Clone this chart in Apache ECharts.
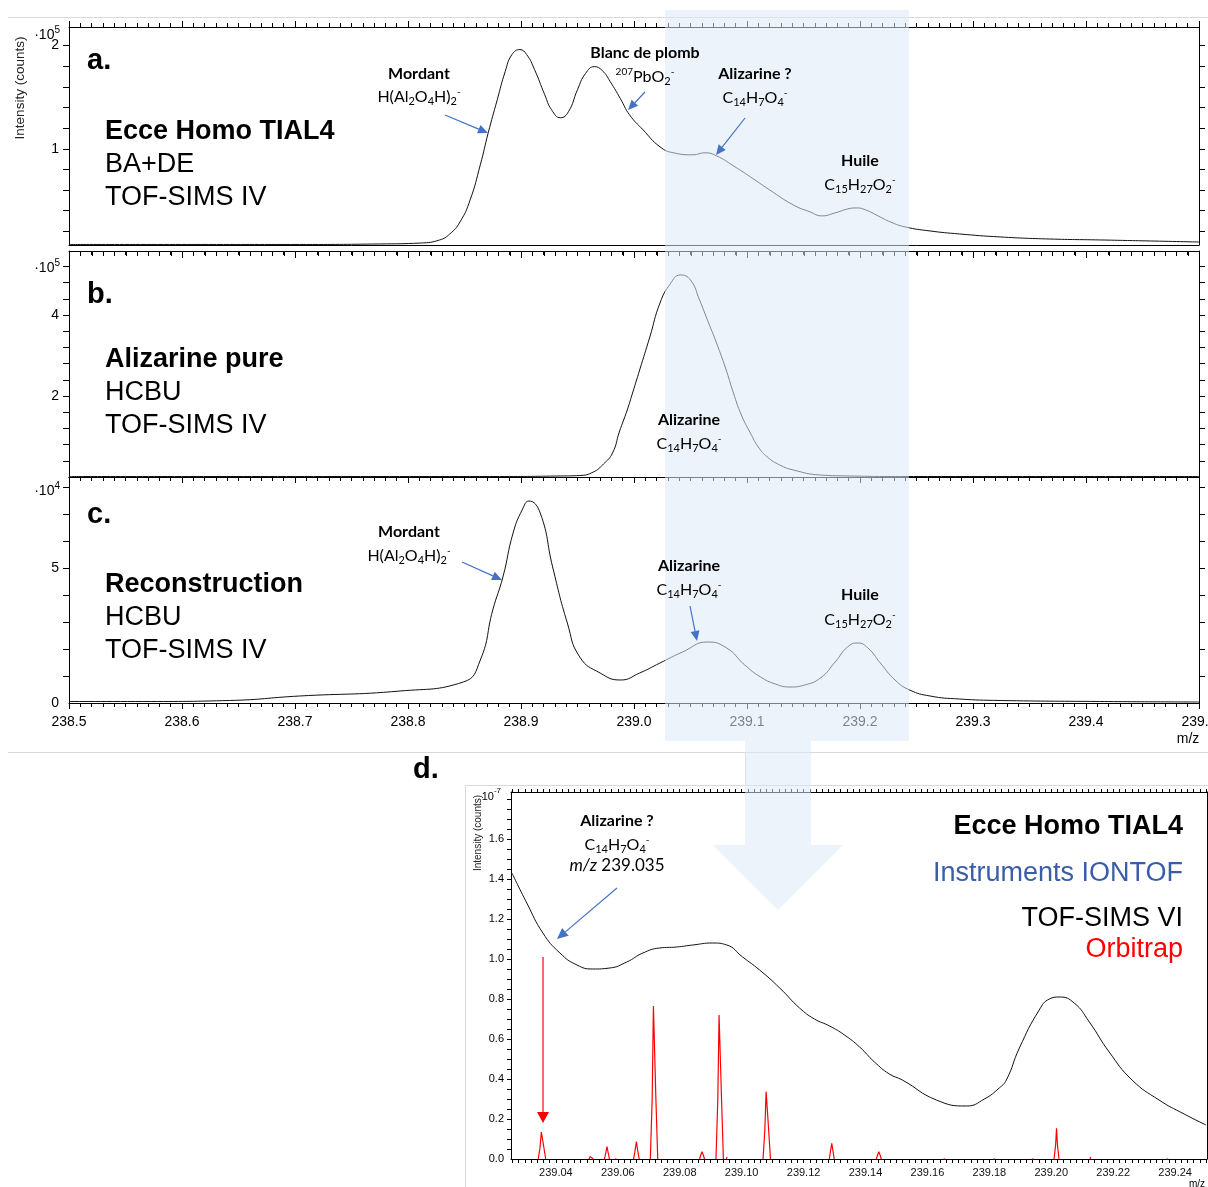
<!DOCTYPE html>
<html><head><meta charset="utf-8">
<script src="https://cdn.jsdelivr.net/npm/echarts@6/dist/echarts.min.js"></script>
<style>html,body{margin:0;padding:0;background:#fff}#c{width:1208px;height:1187px;background:#fff}</style>
</head><body><div id="c"></div>
<script>
// ---- Data (m/z, intensity) ----
// Panel a: Ecce Homo TIAL4, intensity x10^5 counts
const panelA = [[238.5,0.073],[238.616,0.073],[238.704,0.073],[238.775,0.078],[238.811,0.087],[238.828,0.117],[238.837,0.175],[238.846,0.291],[238.855,0.505],[238.864,0.845],[238.871,1.155],[238.879,1.476],[238.886,1.748],[238.892,1.913],[238.899,1.961],[238.905,1.913],[238.912,1.767],[238.921,1.524],[238.927,1.379],[238.935,1.301],[238.942,1.359],[238.950,1.573],[238.957,1.728],[238.965,1.796],[238.972,1.757],[238.979,1.650],[238.988,1.485],[238.996,1.330],[239.008,1.184],[239.023,1.019],[239.035,0.961],[239.052,0.942],[239.063,0.961],[239.073,0.932],[239.088,0.835],[239.103,0.728],[239.120,0.602],[239.141,0.456],[239.156,0.388],[239.166,0.350],[239.178,0.379],[239.189,0.417],[239.197,0.427],[239.205,0.408],[239.216,0.350],[239.227,0.291],[239.240,0.243],[239.262,0.204],[239.288,0.175],[239.324,0.146],[239.368,0.126],[239.412,0.117],[239.457,0.107],[239.5,0.097]];
// Panel b: Alizarine pure, x10^5 counts
const panelB = [[238.5,0.012],[238.881,0.012],[238.935,0.025],[238.952,0.037],[238.964,0.123],[238.973,0.321],[238.981,0.593],[238.987,1.111],[238.994,1.654],[238.999,2.099],[239.005,2.642],[239.014,3.457],[239.023,4.296],[239.032,4.765],[239.041,4.988],[239.050,4.864],[239.058,4.370],[239.065,3.877],[239.073,3.309],[239.081,2.691],[239.088,2.074],[239.095,1.531],[239.103,1.086],[239.110,0.741],[239.118,0.494],[239.129,0.296],[239.141,0.173],[239.165,0.049],[239.191,0.025],[239.235,0.012],[239.5,0.012]];
// Panel c: Reconstruction, x10^4 counts
const panelC = [[238.5,0.056],[238.572,0.056],[238.642,0.093],[238.704,0.259],[238.793,0.444],[238.849,0.778],[238.864,1.593],[238.875,3.444],[238.884,4.667],[238.893,6.296],[238.901,7.148],[238.907,7.481],[238.917,7.037],[238.928,5.037],[238.941,2.963],[238.952,1.704],[238.970,1.111],[238.988,0.852],[239.005,1.111],[239.023,1.481],[239.043,1.889],[239.065,2.259],[239.082,2.037],[239.098,1.407],[239.112,0.963],[239.125,0.704],[239.138,0.593],[239.151,0.667],[239.165,0.926],[239.178,1.519],[239.189,2.074],[239.198,2.222],[239.207,2.037],[239.218,1.481],[239.231,0.852],[239.244,0.481],[239.262,0.259],[239.288,0.148],[239.324,0.093],[239.412,0.056],[239.5,0.037]];
// Panel d: TOF-SIMS VI (black), x10^-7
const panelDTof = [[239.0258,1.43],[239.0306,1.28],[239.0358,1.13],[239.0413,1.03],[239.0468,0.97],[239.0519,0.95],[239.0574,0.955],[239.0629,0.985],[239.0681,1.03],[239.0735,1.055],[239.0790,1.06],[239.0842,1.07],[239.0906,1.08],[239.0952,1.07],[239.1003,1.01],[239.1058,0.945],[239.1123,0.855],[239.1187,0.755],[239.1235,0.70],[239.1284,0.665],[239.1332,0.62],[239.1381,0.56],[239.1429,0.485],[239.1477,0.425],[239.1519,0.395],[239.1629,0.295],[239.1726,0.265],[239.1784,0.30],[239.1832,0.355],[239.1855,0.395],[239.1897,0.555],[239.1961,0.745],[239.1994,0.80],[239.2026,0.81],[239.2074,0.78],[239.2123,0.685],[239.2187,0.535],[239.2261,0.395],[239.2348,0.295],[239.2429,0.225],[239.2500,0.17]];
// Panel d: Orbitrap profile peaks (red), x10^-7
const orbitrapPeaks = [
 [[239.0343,0],[239.0349,0.06],[239.0353,0.135],[239.0357,0.135],[239.0361,0.06],[239.0367,0]],
 [[239.0507,0],[239.0511,0.012],[239.0514,0.02],[239.0517,0.012],[239.0521,0]],
 [[239.0557,0],[239.0561,0.03],[239.0565,0.062],[239.0569,0.03],[239.0573,0]],
 [[239.0590,0],[239.0593,0.006],[239.0596,0]],
 [[239.0651,0],[239.0656,0.045],[239.0660,0.087],[239.0664,0.045],[239.0669,0]],
 [[239.0705,0],[239.0711,0.3],[239.0715,0.765],[239.0719,0.765],[239.0723,0.3],[239.0729,0]],
 [[239.0864,0],[239.0868,0.02],[239.0872,0.037],[239.0876,0.02],[239.0880,0]],
 [[239.0917,0],[239.0923,0.3],[239.0927,0.72],[239.0931,0.72],[239.0935,0.3],[239.0941,0]],
 [[239.0950,0],[239.0953,0.01],[239.0956,0]],
 [[239.1069,0],[239.1075,0.15],[239.1079,0.337],[239.1083,0.337],[239.1087,0.15],[239.1093,0]],
 [[239.1283,0],[239.1287,0.04],[239.1291,0.078],[239.1295,0.04],[239.1299,0]],
 [[239.1435,0],[239.1439,0.02],[239.1443,0.037],[239.1447,0.02],[239.1451,0]],
 [[239.1652,0],[239.1655,0.006],[239.1658,0]],
 [[239.1813,0],[239.1816,0.005],[239.1819,0]],
 [[239.1937,0],[239.1940,0.005],[239.1943,0]],
 [[239.2009,0],[239.2014,0.07],[239.2017,0.153],[239.2020,0.07],[239.2025,0]],
 [[239.2125,0],[239.2128,0.01],[239.2131,0]],
 [[239.2372,0],[239.2375,0.005],[239.2378,0]]
];
// ---- Axis ranges / tick labels ----
const mainXRange = [238.5, 239.5];
const aYRange = [0.068, 2.18], aYLabels = [1, 2], aYTicks = [0.2,0.4,0.6,0.8,1.0,1.2,1.4,1.6,1.8,2.0];
const bYRange = [0, 5.58], bYLabels = [2, 4], bYTicks = [0.4,0.8,1.2,1.6,2.0,2.4,2.8,3.2,3.6,4.0,4.4,4.8,5.2];
const cYRange = [0, 8.37], cYLabels = [0, 5], cYTicks = [1,2,3,4,5,6,7,8];
const dXRange = [239.0255, 239.2503], dXLabels = [239.04,239.06,239.08,239.10,239.12,239.14,239.16,239.18,239.20,239.22,239.24];
const dYRange = [0, 1.835], dYLabels = [0,0.2,0.4,0.6,0.8,1.0,1.2,1.4,1.6], dYMajor = [0.2,0.4,0.6,0.8,1.0,1.2,1.4,1.6,1.8];
const mainXMajor = [238.5,238.6,238.7,238.8,238.9,239.0,239.1,239.2,239.3,239.4,239.5];
const mainXMinor = []; for (let i = 1; i < 100; i++) if (i % 10) mainXMinor.push(+(238.5 + i*0.01).toFixed(2));
const dYMinor = []; for (let i = 1; i <= 36; i++) if (i % 4) dYMinor.push(+(i*0.05).toFixed(2));
const dXMinor = []; for (let i = 13; i <= 125; i++) if (i % 10) dXMinor.push(+(239 + i*0.002).toFixed(3));
const dYAll = dYMajor.concat(dYMinor).sort((a,b)=>a-b);
const dXAll = dXLabels.concat(dXMinor).sort((a,b)=>a-b);

// ---- build ----
const chart = echarts.init(document.getElementById('c'));
const BLK = '#000';
const gridRects = [
  {left:69, top:27, width:1130, height:218},
  {left:69, top:251, width:1130, height:226},
  {left:69, top:477, width:1130, height:226},
  {left:511, top:792, width:696, height:367}
];
const grids = gridRects.map(g => Object.assign({outerBoundsMode:'none'}, g));

function mainX(gi, pos, o) {
  return {type:'value', gridIndex:gi, position:pos, min:mainXRange[0], max:mainXRange[1], interval:0.1,
    axisLine:{show:true, onZero:false, lineStyle:{color:BLK, width:1}},
    axisTick:{show:!!o.ticks, inside:!!o.inside, length:6, lineStyle:{color:BLK, width:1}},
    minorTick:{show:!!o.ticks, splitNumber:10, length:4, lineStyle:{color:BLK, width:1}},
    axisLabel:{show:!!o.labels, formatter:v=>v.toFixed(1), fontFamily:'Liberation Sans', fontSize:14, color:BLK, margin:12},
    splitLine:{show:false}, minorSplitLine:{show:false}};
}
function yAx(gi, pos, range, ticks, labels, o) {
  return {type:'value', gridIndex:gi, position:pos, min:range[0], max:range[1],
    axisLine:{show:true, onZero:false, lineStyle:{color:BLK, width:1}},
    axisTick:{show:true, length:o.len||6, customValues:ticks, lineStyle:{color:BLK, width:1}},
    axisLabel:{show:!!labels, customValues:labels||[], formatter:o.fmt||(v=>String(v)), fontFamily:'Liberation Sans', fontSize:o.fs||14, color:BLK, margin:o.margin||10},
    splitLine:{show:false}};
}
const xAxis = [
  mainX(0,'bottom',{}), mainX(0,'top',{ticks:true}),
  mainX(1,'bottom',{}), mainX(1,'top',{ticks:true, inside:true}),
  mainX(2,'bottom',{ticks:true, labels:true}), mainX(2,'top',{ticks:true, inside:true}),
  {type:'value', gridIndex:3, position:'bottom', min:dXRange[0], max:dXRange[1],
    axisLine:{show:true, onZero:false, lineStyle:{color:BLK}},
    axisTick:{show:true, length:4, customValues:dXAll, lineStyle:{color:BLK, width:1}},
    axisLabel:{show:true, customValues:dXLabels, formatter:v=>v.toFixed(2), fontFamily:'Liberation Sans', fontSize:11, color:'#111', margin:8},
    splitLine:{show:false}},
  {type:'value', gridIndex:3, position:'top', min:dXRange[0], max:dXRange[1],
    axisLine:{show:true, onZero:false, lineStyle:{color:BLK}},
    axisTick:{show:true, length:3, customValues:dXAll, lineStyle:{color:BLK, width:1}},
    axisLabel:{show:false}, splitLine:{show:false}}
];
const yAxis = [
  yAx(0,'left',aYRange,aYTicks,aYLabels,{}), yAx(0,'right',aYRange,aYTicks,null,{}),
  yAx(1,'left',bYRange,bYTicks,bYLabels,{}), yAx(1,'right',bYRange,bYTicks,null,{}),
  yAx(2,'left',cYRange,cYTicks,cYLabels,{}), yAx(2,'right',cYRange,cYTicks,null,{}),
  yAx(3,'left',dYRange,dYAll,dYLabels,{len:4, fs:11, margin:7, fmt:v=>v.toFixed(1)}),
  yAx(3,'right',dYRange,[0.5,1.0,1.5],null,{len:1})
];
function lineSeries(xi, yi, data, color, smooth, w) {
  return {type:'line', xAxisIndex:xi, yAxisIndex:yi, data, showSymbol:false, symbol:'none',
    smooth:smooth, connectNulls:false, lineStyle:{color, width:w||1}, z:3};
}
const orbitrapData = [];
orbitrapPeaks.forEach((p, i) => { if (i) orbitrapData.push([p[0][0]-0.0002, '-']); p.forEach(q => orbitrapData.push(q)); });
const series = [
  lineSeries(0,0,panelA,'#111',0.5),
  lineSeries(2,2,panelB,'#111',0.5),
  lineSeries(4,4,panelC,'#111',0.5),
  lineSeries(6,6,orbitrapData,'#ff0000',false,1.2),
  lineSeries(6,6,panelDTof,'#111',0.5)
];
chart.setOption({animation:false, grid:grids, xAxis, yAxis, series});

// ---- annotations & extra tick marks ----
const G = [];
const ANN = 'Lato, "Open Sans", sans-serif';
const RICH = {
  s:{font:'11px '+ANN, fontSize:11, fontFamily:ANN, lineHeight:11, verticalAlign:'bottom'},
  p:{font:'10px '+ANN, fontSize:10, fontFamily:ANN, lineHeight:10, verticalAlign:'top'},
  i:{font:'italic 17px '+ANN, fontSize:17, fontFamily:ANN, fontStyle:'italic'},
  e:{font:'10px "Liberation Sans"', fontSize:10, fontFamily:'Liberation Sans', lineHeight:9, verticalAlign:'top'},
  e2:{font:'8px "Liberation Sans"', fontSize:8, fontFamily:'Liberation Sans', lineHeight:8, verticalAlign:'top'}
};
function T(x, y, text, font, o) {
  o = o || {};
  const al = o.align || 'left';
  G.push({type:'text', x, y, z:100, rotation:o.rot||0, silent:true,
    style:{text, font, fill:o.color||'#000', align:al, textAlign:al, verticalAlign:'middle', textVerticalAlign:'middle', rich:RICH, lineHeight:o.lh||20}});
}
function seg(x1, y1, x2, y2, color, w, z) {
  G.push({type:'line', z:z||10, silent:true, shape:{x1, y1, x2, y2}, style:{stroke:color, lineWidth:w||1}});
}
function arrow(x1, y1, x2, y2, color, hl, hw, w) {
  const a = Math.atan2(y2-y1, x2-x1);
  const bx = x2 - hl*Math.cos(a), by = y2 - hl*Math.sin(a);
  const ox = -Math.sin(a)*hw/2, oy = Math.cos(a)*hw/2;
  seg(x1, y1, bx, by, color, w||1.2, 100);
  G.push({type:'polygon', z:100, silent:true, shape:{points:[[x2,y2],[bx+ox,by+oy],[bx-ox,by-oy]]}, style:{fill:color}});
}
function toX(axisIdx, gi, range, v) {
  let p = null;
  try { p = chart.convertToPixel({xAxisIndex:axisIdx}, v); } catch (e) {}
  if (typeof p !== 'number' || !isFinite(p)) { const g = gridRects[gi]; p = g.left + (v - range[0]) / (range[1] - range[0]) * g.width; }
  return p;
}
// panel a/b boundary ticks (drawn into panel b from its top edge)
mainXMajor.forEach(v => { const x = Math.round(toX(3, 1, mainXRange, v)) + 0.5; seg(x, 251, x, 258, BLK, 1); });
mainXMinor.forEach(v => { const x = Math.round(toX(3, 1, mainXRange, v)) + 0.5; seg(x, 251, x, 256, BLK, 1); });

// faint frame lines
[[8,17.5,1208,17.5],[8,752.5,1208,752.5],[465,785.5,1208,785.5],[465.5,785,465.5,1187],[745.5,753,745.5,785]].forEach(l => seg(l[0],l[1],l[2],l[3],'#d8d8d8',1,1));
// shade + big arrow
const SHADE = 'rgba(222,233,247,0.55)';
G.push({type:'rect', z:50, silent:true, shape:{x:665, y:10, width:244, height:731}, style:{fill:SHADE}});
G.push({type:'polygon', z:50, silent:true, shape:{points:[[745,741],[811,741],[811,845],[843,845],[778,910],[713,845],[745,845]]}, style:{fill:SHADE}});

const BIG = '"Liberation Sans", Arial, sans-serif';
const BLUE = '#4472c4';
// panel a
T(20, 88, 'Intensity (counts)', '13.5px '+BIG, {align:'center', rot:Math.PI/2, color:'#222'});
T(60, 35, '·10{e|5}', '14px '+BIG, {align:'right'});
T(87, 61, 'a.', 'bold 29px '+BIG);
T(105, 132, 'Ecce Homo TIAL4', 'bold 27px '+BIG, {lh:30});
T(105, 165, 'BA+DE', '27px '+BIG, {lh:30});
T(105, 198, 'TOF-SIMS IV', '27px '+BIG, {lh:30});
T(419, 74, 'Mordant', 'bold 16px '+ANN, {align:'center'});
T(419, 97, 'H(Al{s|2}O{s|4}H){s|2}{p|-}', '16px '+ANN, {align:'center'});
T(645, 53, 'Blanc de plomb', 'bold 16px '+ANN, {align:'center'});
T(645, 77, '{p|207}PbO{s|2}{p|-}', '16px '+ANN, {align:'center'});
T(755, 74, 'Alizarine ?', 'bold 16px '+ANN, {align:'center'});
T(755, 98, 'C{s|14}H{s|7}O{s|4}{p|-}', '16px '+ANN, {align:'center'});
T(860, 161, 'Huile', 'bold 16px '+ANN, {align:'center'});
T(860, 185, 'C{s|15}H{s|27}O{s|2}{p|-}', '16px '+ANN, {align:'center'});
arrow(445, 115, 488, 133, BLUE, 10, 9);
arrow(645, 92, 628, 110, BLUE, 10, 9);
arrow(745, 118, 716, 155, BLUE, 10, 9);
// panel b
T(60, 268, '·10{e|5}', '14px '+BIG, {align:'right'});
T(87, 295, 'b.', 'bold 29px '+BIG);
T(105, 360, 'Alizarine pure', 'bold 27px '+BIG, {lh:30});
T(105, 393, 'HCBU', '27px '+BIG, {lh:30});
T(105, 426, 'TOF-SIMS IV', '27px '+BIG, {lh:30});
T(689, 420, 'Alizarine', 'bold 16px '+ANN, {align:'center'});
T(689, 444, 'C{s|14}H{s|7}O{s|4}{p|-}', '16px '+ANN, {align:'center'});
// panel c
T(60, 491, '·10{e|4}', '14px '+BIG, {align:'right'});
T(87, 515, 'c.', 'bold 29px '+BIG);
T(105, 585, 'Reconstruction', 'bold 27px '+BIG, {lh:30});
T(105, 618, 'HCBU', '27px '+BIG, {lh:30});
T(105, 651, 'TOF-SIMS IV', '27px '+BIG, {lh:30});
T(409, 532, 'Mordant', 'bold 16px '+ANN, {align:'center'});
T(409, 556, 'H(Al{s|2}O{s|4}H){s|2}{p|-}', '16px '+ANN, {align:'center'});
T(689, 566, 'Alizarine', 'bold 16px '+ANN, {align:'center'});
T(689, 590, 'C{s|14}H{s|7}O{s|4}{p|-}', '16px '+ANN, {align:'center'});
T(860, 595, 'Huile', 'bold 16px '+ANN, {align:'center'});
T(860, 620, 'C{s|15}H{s|27}O{s|2}{p|-}', '16px '+ANN, {align:'center'});
T(1188, 739, 'm/z', '14px '+BIG, {align:'center'});
arrow(462, 562, 502, 580, BLUE, 10, 9);
arrow(690, 606, 697, 641, BLUE, 10, 9);
// panel d
T(413, 770, 'd.', 'bold 29px '+BIG);
T(478, 833, 'Intensity (counts)', '10px '+BIG, {align:'center', rot:Math.PI/2, color:'#222'});
T(501, 797, '10{e2|-7}', '11px '+BIG, {align:'right'});
T(617, 821, 'Alizarine ?', 'bold 16px '+ANN, {align:'center'});
T(617, 845, 'C{s|14}H{s|7}O{s|4}{p|-}', '16px '+ANN, {align:'center'});
T(617, 866, '{i|m/z} 239.035', '17px '+ANN, {align:'center'});
T(1183, 827, 'Ecce Homo TIAL4', 'bold 27px '+BIG, {align:'right', lh:30});
T(1183, 874, 'Instruments IONTOF', '27px '+BIG, {align:'right', color:'#3a5da8', lh:30});
T(1183, 919, 'TOF-SIMS VI', '27px '+BIG, {align:'right', lh:30});
T(1183, 950, 'Orbitrap', '27px '+BIG, {align:'right', color:'#ff0000', lh:30});
T(1197, 1184, 'm/z', '10px '+BIG, {align:'center'});
arrow(617, 888, 557, 939, BLUE, 11, 10);
arrow(543, 957, 543, 1123, '#ff0000', 11, 12, 1.2);

chart.setOption({graphic:{elements:G}});
</script></body></html>
